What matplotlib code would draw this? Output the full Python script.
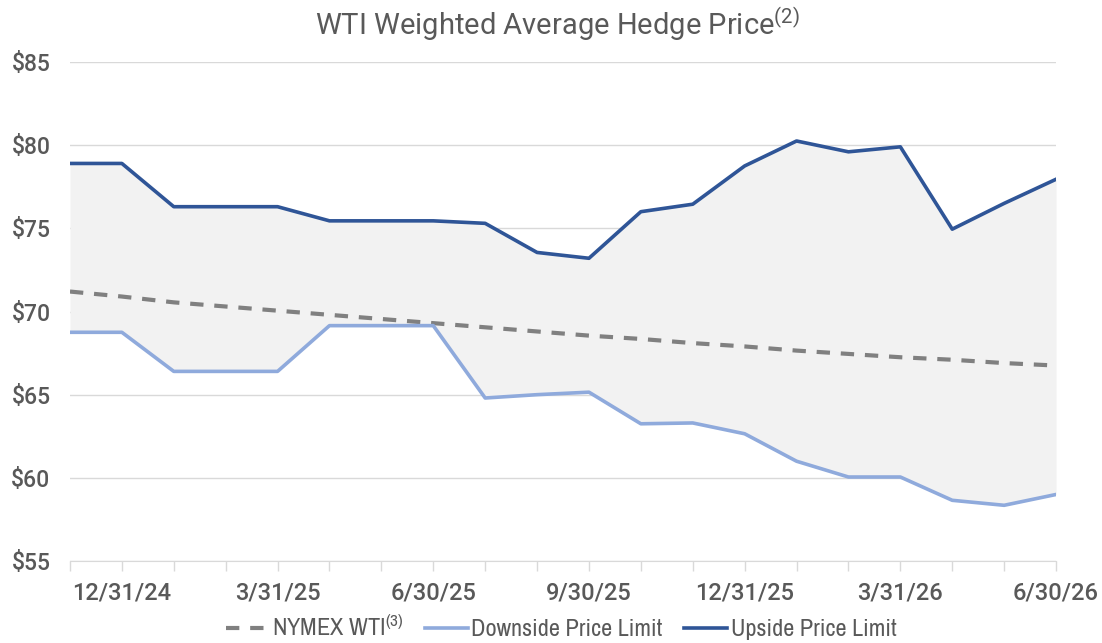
import matplotlib
matplotlib.use("Agg")
import matplotlib.pyplot as plt

# month-end dates, Nov-24 .. Jun-26
dates = ["11/30/24", "12/31/24", "1/31/25", "2/28/25", "3/31/25", "4/30/25",
         "5/31/25", "6/30/25", "7/31/25", "8/31/25", "9/30/25", "10/31/25",
         "11/30/25", "12/31/25", "1/31/26", "2/28/26", "3/31/26", "4/30/26",
         "5/31/26", "6/30/26"]
shown_labels = ["12/31/24", "3/31/25", "6/30/25", "9/30/25", "12/31/25",
                "3/31/26", "6/30/26"]

nymex = [71.2, 70.9, 70.55, 70.3, 70.05, 69.8, 69.55, 69.3, 69.05, 68.8,
         68.55, 68.35, 68.1, 67.9, 67.65, 67.45, 67.25, 67.1, 66.9, 66.75]
downside = [68.75, 68.75, 66.4, 66.4, 66.4, 69.15, 69.15, 69.15, 64.8, 65.0,
            65.15, 63.25, 63.3, 62.65, 61.0, 60.05, 60.05, 58.65, 58.35, 59.0]
upside = [78.9, 78.9, 76.3, 76.3, 76.3, 75.45, 75.45, 75.45, 75.3, 73.55,
          73.2, 76.0, 76.45, 78.75, 80.25, 79.6, 79.9, 74.95, 76.5, 77.95]

GRAY_TXT = "#595959"
TICK_FONT = ["Roboto", "Liberation Sans", "DejaVu Sans"]
NARROW = ["Archivo Narrow", "Roboto Condensed", "DejaVu Sans"]
plt.rcParams["font.family"] = TICK_FONT
plt.rcParams["mathtext.default"] = "regular"

fig = plt.figure(figsize=(11.02, 6.43), dpi=100)
ax = fig.add_axes([0.0635, 0.1275, 0.8948, 0.7761])

x = list(range(len(dates)))
ax.fill_between(x, downside, upside, color="#f2f2f2", lw=0, zorder=1)
ax.plot(x, nymex, color="#808080", lw=3, dashes=(3.2, 2.6), zorder=3,
        label="NYMEX WTI$^{(3)}$")
ax.plot(x, downside, color="#8faadc", lw=2.6, zorder=3,
        label="Downside Price Limit")
ax.plot(x, upside, color="#2f5597", lw=2.6, zorder=3,
        label="Upside Price Limit")

ax.set_xlim(0, len(dates) - 1)
ax.set_ylim(55, 85)
ax.set_yticks(range(55, 90, 5))
ax.set_yticklabels([f"${v}" for v in range(55, 90, 5)])
ax.grid(axis="y", color="#d9d9d9", lw=1, zorder=0)
ax.set_axisbelow(True)

ax.set_xticks(x)
ax.set_xticklabels([d if d in shown_labels else "" for d in dates])
ax.tick_params(axis="x", length=7, color="#d9d9d9", width=1, pad=8,
               labelsize=17, labelcolor=GRAY_TXT)
ax.tick_params(axis="y", length=0, pad=14, labelsize=16.5, labelcolor=GRAY_TXT)
for lab in ax.get_xticklabels() + ax.get_yticklabels():
    lab.set_fontweight(500)
for s in ("top", "right", "left"):
    ax.spines[s].set_visible(False)
ax.spines["bottom"].set_color("#d9d9d9")

fig.text(0.506, 0.962, "WTI Weighted Average Hedge Price$^{(2)}$",
         ha="center", va="center", fontsize=21, color=GRAY_TXT,
         fontweight="normal")

leg = fig.legend(loc="center", bbox_to_anchor=(0.509, 0.024), ncol=3,
                 frameon=False, handlelength=1.75, handletextpad=0.15,
                 columnspacing=0.9,
                 prop={"family": NARROW, "size": 17.5, "weight": 500})
for t in leg.get_texts():
    t.set_color(GRAY_TXT)

fig.savefig("out.png", dpi=100)
